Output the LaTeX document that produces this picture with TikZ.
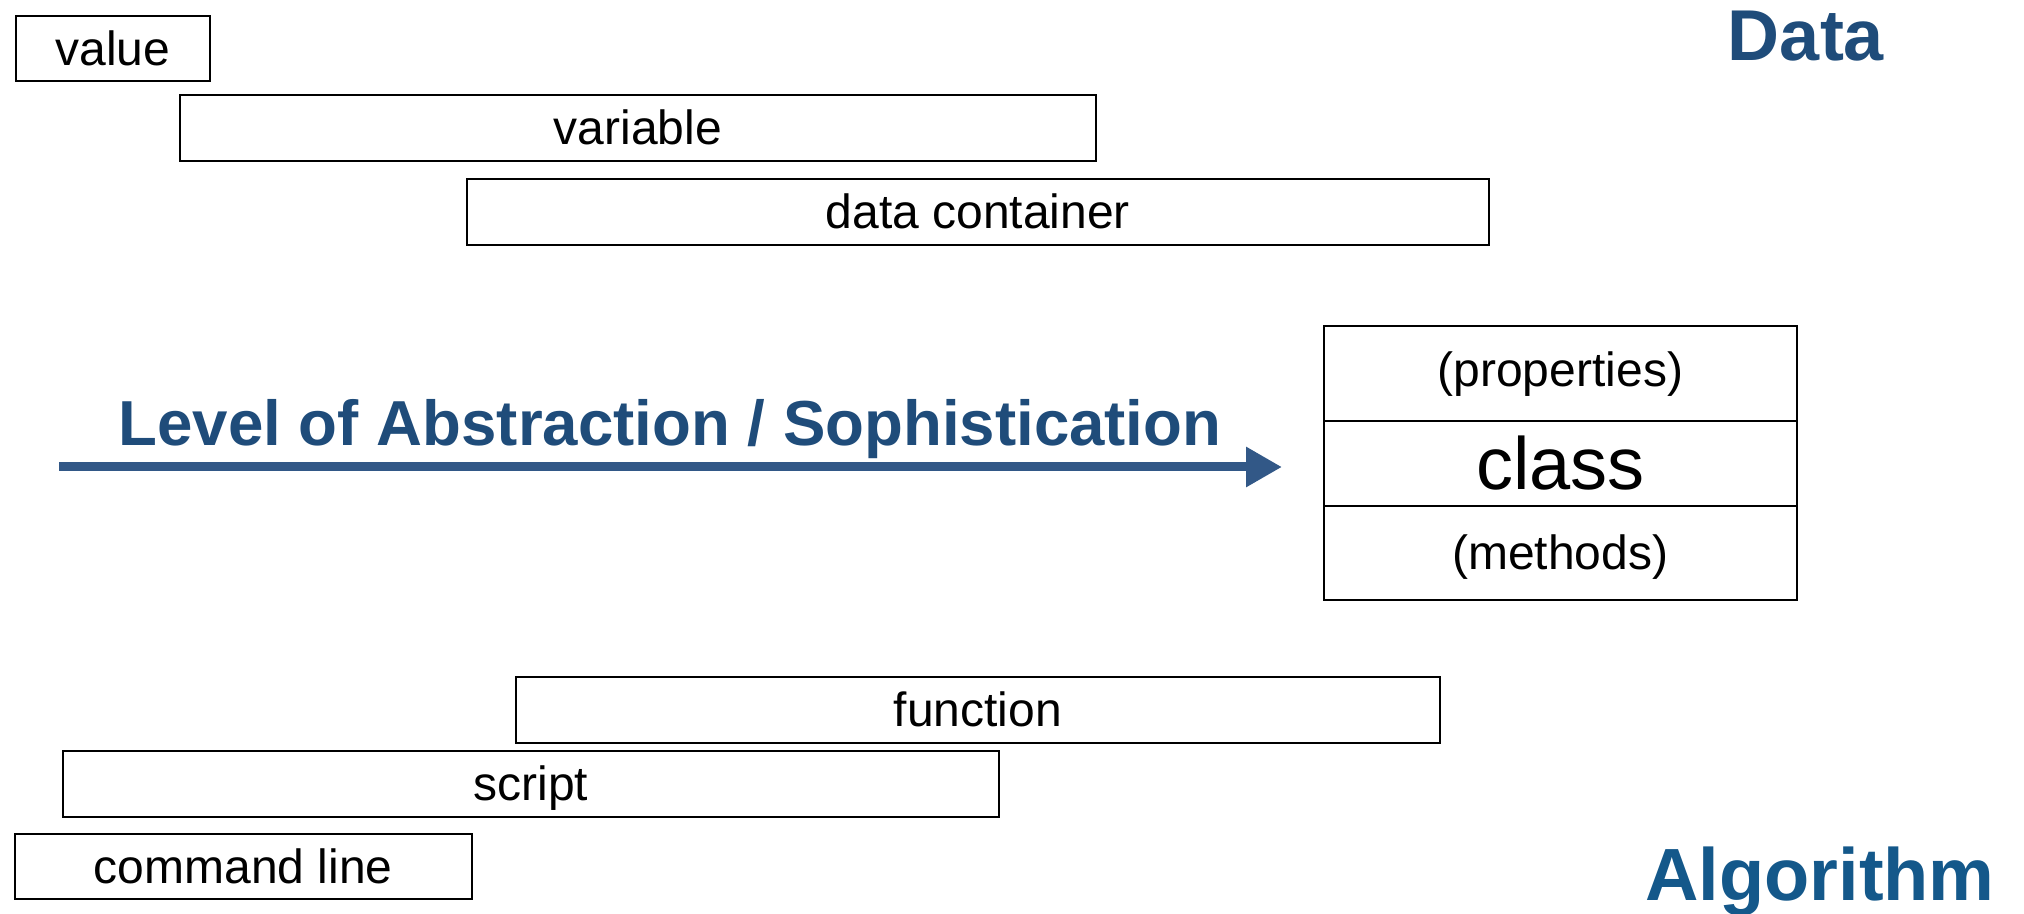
\documentclass[tikz,border=0pt]{standalone}
\usepackage{fontspec}
\setmainfont{Liberation Sans}
\usetikzlibrary{arrows.meta}
\definecolor{darkblue}{RGB}{31,76,122}
\definecolor{algoblue}{RGB}{20,88,138}
\definecolor{arrowblue}{RGB}{50,88,135}
\begin{document}
\begin{tikzpicture}[x=0.5pt,y=-0.5pt,
  boxnode/.style={draw=black, line width=0.8pt, rectangle, anchor=north west,
    inner sep=0pt, font=\fontsize{24}{28}\selectfont, text height=17pt, text depth=0pt,
    minimum height=33pt},
  bigtitle/.style={anchor=base, inner sep=0pt, font=\bfseries\fontsize{36}{40}\selectfont}
]
\useasboundingbox (0,0) rectangle (2024,914);
% data side
\node[boxnode, minimum width=97pt, minimum height=32.5pt] (value) at (15,15) {value};
\node[boxnode, minimum width=458pt] (variable) at (179,94) {variable};
\node[boxnode, minimum width=511pt] (container) at (466,178) {data container};
% class
\node[boxnode, minimum width=236.5pt, minimum height=47.5pt, text height=13.5pt] (props) at (1323,325) {(properties)};
\node[boxnode, minimum width=236.5pt, minimum height=42.5pt, font=\fontsize{37}{40}\selectfont, text height=26pt] (class) at (1323,420) {class};
\node[boxnode, minimum width=236.5pt, minimum height=47pt] (methods) at (1323,505) {(methods)};
% algorithm side
\node[boxnode, minimum width=462pt] (function) at (515,676) {function};
\node[boxnode, minimum width=468pt] (script) at (62,750) {script};
\node[boxnode, minimum width=228.5pt, minimum height=32.5pt] (cmdline) at (14,833) {command line};
% arrow
\coordinate (arrowstart) at (59,467);
\coordinate (arrowend) at (1282,467);
\draw[arrowblue, line width=4.5pt, -{Triangle[length=18pt,width=19pt]}] (arrowstart) -- (arrowend);
\node[anchor=base, inner sep=0pt, text=darkblue, font=\bfseries\fontsize{31.8}{36}\selectfont] (level) at (670,445) {Level of Abstraction / Sophistication};
% titles
\node[bigtitle, text=darkblue] (data) at (1806,61) {Data};
\node[bigtitle, text=algoblue, font=\bfseries\fontsize{37}{40}\selectfont] (algo) at (1820,900) {Algorithm};
\end{tikzpicture}
\end{document}
